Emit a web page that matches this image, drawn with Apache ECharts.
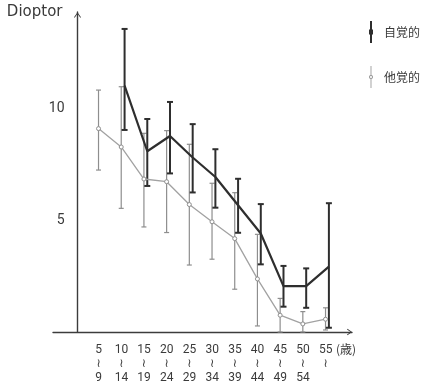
<!DOCTYPE html>
<html>
<head>
<meta charset="utf-8">
<script src="https://cdn.jsdelivr.net/npm/echarts@6/dist/echarts.min.js"></script>
<style>
  html, body { margin: 0; padding: 0; background: #fff; }
  #chart { width: 425px; height: 386px; }
</style>
</head>
<body>
<div id="chart"></div>
<script>
// Age groups (start of each 5-year band) and their label parts
const ages = [5, 10, 15, 20, 25, 30, 35, 40, 45, 50, 55];
const ageFrom = ['5', '10', '15', '20', '25', '30', '35', '40', '45', '50', '55'];
const ageTo = ['9', '14', '19', '24', '29', '34', '39', '44', '49', '54', ''];

// 自覚的 (subjective) refraction: mean and error-bar bounds, in dioptres
const selfMean = [null, 11.0, 8.07, 8.75, 7.79, 6.92, 5.66, 4.40, 2.05, 2.05, 2.92];
const selfHigh = [null, 13.53, 9.51, 10.27, 9.28, 8.16, 6.84, 5.71, 2.95, 2.84, 5.75];
const selfLow  = [null, 9.02, 6.52, 7.08, 6.23, 5.55, 4.43, 3.02, 1.13, 1.08, 0.19];

// 他覚的 (objective) refraction
const objMean = [9.08, 8.26, 6.83, 6.71, 5.69, 4.92, 4.17, 2.37, 0.75, 0.36, 0.57];
const objHigh = [10.80, 10.95, 8.87, 8.99, 8.38, 6.64, 6.22, 4.36, 1.50, 0.91, 1.08];
const objLow  = [7.23, 5.52, 4.69, 4.44, 2.99, 3.25, 1.91, 0.27, 0.0, 0.0, 0.09];

const SELF_COLOR = '#2e2e2e';
const OBJ_COLOR = '#8e8e8e';
const OBJ_LINE = '#a2a2a2';
const TEXT_COLOR = '#3a3a3a';
const AXIS_COLOR = '#3c3c3c';

// The plot area starts at age 0 (where the vertical axis stands);
// the horizontal axis line runs a little further left, from X_MIN.
const X_MIN = -5.4, X_MAX = 60.46;
const DODGE = 0.37;   // small sideways shift between the two series (years)

const upArrow = 'path://M5,0 L10,7 L9,7.8 L5,2.2 L1,7.8 L0,7 Z';

function pick(mean, low, high) {
  const line = [], bars = [];
  ages.forEach((a, i) => {
    if (mean[i] == null) return;
    line.push([a, mean[i]]);
    bars.push([a, low[i], high[i]]);
  });
  return { line, bars };
}
const self = pick(selfMean, selfLow, selfHigh);
const obj = pick(objMean, objLow, objHigh);

function errorBars(color, width, cap) {
  return function (params, api) {
    const x = api.value(0);
    const lo = api.coord([x, api.value(1)]);
    const hi = api.coord([x, api.value(2)]);
    const style = { stroke: color, lineWidth: width, fill: null };
    return {
      type: 'group',
      children: [
        { type: 'line', shape: { x1: lo[0], y1: lo[1], x2: hi[0], y2: hi[1] }, style },
        { type: 'line', shape: { x1: hi[0] - cap / 2, y1: hi[1], x2: hi[0] + cap / 2, y2: hi[1] }, style },
        { type: 'line', shape: { x1: lo[0] - cap / 2, y1: lo[1], x2: lo[0] + cap / 2, y2: lo[1] }, style }
      ]
    };
  };
}

const hiddenX = (shift) => ({
  type: 'value', gridIndex: 0, min: shift, max: X_MAX + shift, show: false
});

const chart = echarts.init(document.getElementById('chart'), null, { renderer: 'canvas' });
chart.setOption({
  animation: false,
  backgroundColor: '#fff',
  grid: [
    { left: 77.5, right: 73, top: 12, bottom: 54 },   // plot area
    { left: 53, right: 73, top: 12, bottom: 54 }      // carries the age axis line and labels
  ],
  legend: {
    orient: 'vertical',
    left: 364,
    top: 16,
    itemWidth: 16,
    itemHeight: 22,
    itemGap: 23,
    selectedMode: false,
    textStyle: { fontSize: 12, color: TEXT_COLOR, fontFamily: 'Noto Sans CJK JP' },
    data: [
      { name: '自覚的', icon: 'path://M1,0H3V8.5H4V13.5H3V22H1V13.5H0V8.5H1Z' },
      { name: '他覚的', icon: 'path://M1.6,0H2.4V9H1.6Z M1.6,13H2.4V22H1.6Z M0,11A2,2 0 1,0 4,11A2,2 0 1,0 0,11Z M0.9,11A1.1,1.1 0 1,1 3.1,11A1.1,1.1 0 1,1 0.9,11Z' }
    ]
  },
  xAxis: [
    hiddenX(-DODGE),   // 0: 自覚的 sits slightly right of the group centre
    hiddenX(DODGE),    // 1: 他覚的 sits slightly left
    {                  // 2: visible age axis
      type: 'value',
      gridIndex: 1,
      min: X_MIN,
      max: X_MAX,
      axisLine: {
        onZero: false,
        symbol: ['none', upArrow],
        symbolSize: [9, 5],
        symbolOffset: [0, -2.5],
        lineStyle: { color: AXIS_COLOR, width: 1.4 }
      },
      axisTick: { show: false },
      splitLine: { show: false },
      axisLabel: {
        customValues: ages,
        margin: 11,
        fontSize: 12,
        lineHeight: 14,
        color: TEXT_COLOR,
        fontFamily: 'Roboto, DejaVu Sans',
        padding: [0, 3, 0, 0],
        formatter: (v) => {
          const i = ages.indexOf(v);
          return ageTo[i] ? ageFrom[i] + '\n≀\n' + ageTo[i] : ageFrom[i] + '\n≀';
        }
      }
    }
  ],
  yAxis: [
    {
      type: 'value',
      gridIndex: 0,
      min: 0,
      max: 14.286,
      interval: 5,
      name: 'Dioptor',
      nameLocation: 'end',
      nameGap: 0,
      nameTextStyle: {
        fontSize: 15, color: TEXT_COLOR, fontFamily: 'DejaVu Sans',
        align: 'right', verticalAlign: 'middle', padding: [0, 15, 0, 0]
      },
      axisLine: {
        show: true,
        onZero: false,
        symbol: ['none', upArrow],
        symbolSize: [7, 6],
        symbolOffset: [0, -3],
        lineStyle: { color: AXIS_COLOR, width: 1.4 }
      },
      axisTick: { show: false },
      splitLine: { show: false },
      axisLabel: {
        margin: 13,
        fontSize: 14,
        color: TEXT_COLOR,
        fontFamily: 'Roboto, DejaVu Sans',
        showMinLabel: false,
        showMaxLabel: false
      }
    },
    { type: 'value', gridIndex: 1, min: 0, max: 1, show: false }
  ],
  graphic: [
    {
      type: 'text',
      left: 336,
      top: 343,
      style: { text: '(歳)', fontSize: 12, fill: TEXT_COLOR, fontFamily: 'Noto Sans CJK JP' }
    }
  ],
  series: [
    {
      name: '他覚的',
      type: 'custom',
      xAxisIndex: 1,
      yAxisIndex: 0,
      itemStyle: { color: OBJ_COLOR },
      renderItem: errorBars(OBJ_COLOR, 1.2, 5),
      encode: { x: 0, y: [1, 2] },
      data: obj.bars,
      z: 2
    },
    {
      name: '自覚的',
      type: 'custom',
      xAxisIndex: 0,
      yAxisIndex: 0,
      itemStyle: { color: SELF_COLOR },
      renderItem: errorBars(SELF_COLOR, 2, 6),
      encode: { x: 0, y: [1, 2] },
      data: self.bars,
      z: 3
    },
    {
      name: '他覚的',
      type: 'line',
      xAxisIndex: 1,
      yAxisIndex: 0,
      data: obj.line,
      symbol: 'circle',
      symbolSize: 4,
      lineStyle: { color: OBJ_LINE, width: 1.3 },
      itemStyle: { color: '#fff', borderColor: OBJ_COLOR, borderWidth: 1 },
      z: 4
    },
    {
      name: '自覚的',
      type: 'line',
      xAxisIndex: 0,
      yAxisIndex: 0,
      data: self.line,
      symbol: 'none',
      lineStyle: { color: SELF_COLOR, width: 2.2 },
      z: 5
    }
  ]
});
</script>
</body>
</html>
